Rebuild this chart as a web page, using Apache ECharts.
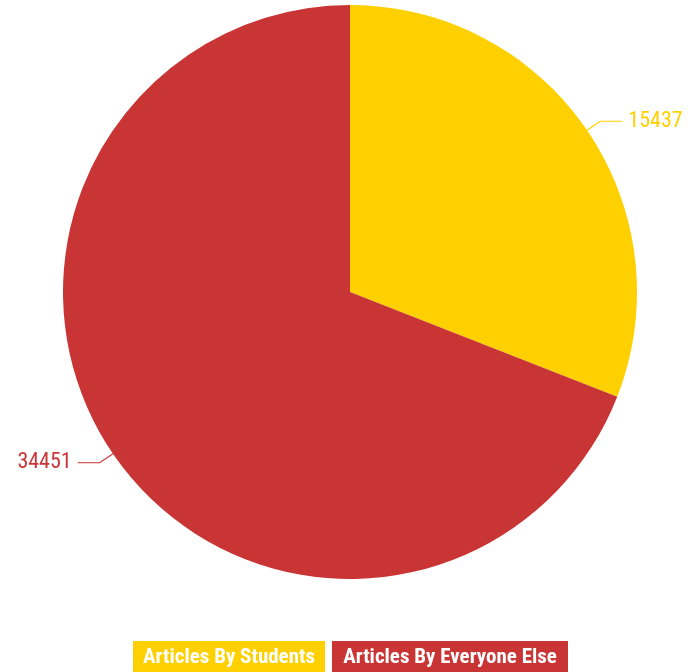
<!DOCTYPE html>
<html><head><meta charset="utf-8">
<script src="https://cdn.jsdelivr.net/npm/echarts@6/dist/echarts.min.js"></script>
<style>html,body{margin:0;padding:0;background:#fff}#c{width:698px;height:672px}</style>
</head><body><div id="c"></div>
<script>
const categories = ["Articles By Students", "Articles By Everyone Else"];
const values = [15437, 34451];
const colors = ["#FFD000", "#C93535"];
const FONT = "'Liberation Sans Narrow', 'Arial Narrow', 'Roboto Condensed', sans-serif";
const chart = echarts.init(document.getElementById('c'));
chart.setOption({
  animation: false,
  legend: {
    data: categories,
    top: 641, left: 128,
    icon: 'none', itemWidth: 0, itemHeight: 0, itemGap: 2, padding: 0,
    selectedMode: false,
    formatter: n => (n === categories[0] ? '{a|' : '{b|') + n + '}',
    textStyle: {
      rich: {
        a: {backgroundColor: colors[0], color: '#fff', fontFamily: FONT, fontWeight: 'bold', fontSize: 21, padding: [6, 0, 6, 0], width: 192, align: 'center'},
        b: {backgroundColor: colors[1], color: '#fff', fontFamily: FONT, fontWeight: 'bold', fontSize: 21, padding: [6, 0, 6, 0], width: 236, align: 'center'}
      }
    }
  },
  series: [{
    type: 'pie',
    center: [350, 292], radius: [0, 287],
    startAngle: 90, clockwise: true,
    data: categories.map((n, i) => ({name: n, value: values[i], itemStyle: {color: colors[i]},
      label: {color: colors[i]}, labelLine: {lineStyle: {color: colors[i]}}})),
    label: {show: true, formatter: '{c}', fontFamily: FONT, fontSize: 22, distanceToLabelLine: 6},
    labelLine: {show: true, length: 16, length2: 22, lineStyle: {width: 1.2}},
    emphasis: {disabled: true}
  }]
});
</script></body></html>
